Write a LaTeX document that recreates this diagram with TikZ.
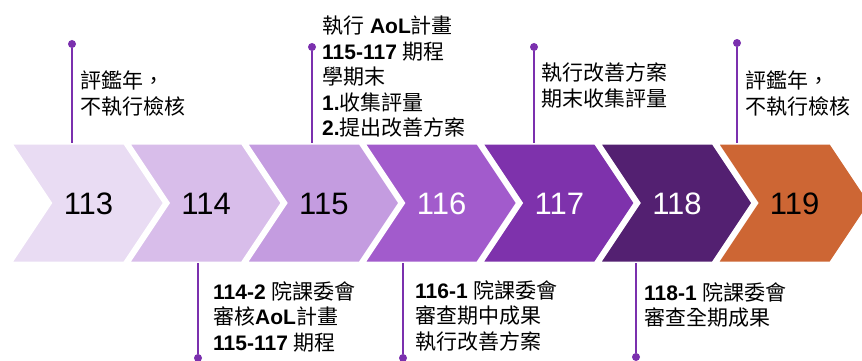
\documentclass[tikz,border=0pt]{standalone}
\usepackage{fontspec}
\setmainfont{Liberation Sans}
\newfontfamily\cjk{Noto Sans CJK TC}
\newcommand{\zh}[1]{{\cjk #1}}
\definecolor{c113}{HTML}{E9DCF3}
\definecolor{c114}{HTML}{D8BDEA}
\definecolor{c115}{HTML}{C49CE0}
\definecolor{c116}{HTML}{A25BCC}
\definecolor{c117}{HTML}{7E32AC}
\definecolor{c118}{HTML}{532071}
\definecolor{c119}{HTML}{CD6634}
\definecolor{pinc}{HTML}{7B30AE}
\tikzset{
  year/.style={font=\fontsize{31}{33}\selectfont},
  note/.style={anchor=north west, align=left, inner sep=0pt, font=\fontsize{21}{25.5}\selectfont},
  dot/.style={circle, fill=pinc, inner sep=0pt, minimum size=8pt},
  pin/.style={draw=pinc, line width=2pt}
}
\begin{document}
\begin{tikzpicture}[x=1pt,y=-1pt]
\useasboundingbox (0,0) rectangle (862,361);

% chevrons
\foreach \n/\c/\t [count=\i from 0] in {113/c113/black,114/c114/black,115/c115/black,116/c116/white,117/c117/white,118/c118/white,119/c119/black} {
  \path[fill=\c,draw=white,line width=3pt] ({10.5+117.7*\i},143) -- ++(114,0) -- ++(40,60) -- ++(-40,60) -- ++(-114,0) -- ++(40,-60) -- cycle;
  \node[year,text=\t] (\n) at ({10.5+117.7*\i+78},204) {\n};
}

\node[dot] (d1) at (72,44) {};
\node[dot] (d2) at (312,47) {};
\node[dot] (d3) at (534,47) {};
\node[dot] (d4) at (737,43) {};
\node[dot] (d5) at (198,358) {};
\node[dot] (d6) at (403,358) {};
\node[dot] (d7) at (636,357) {};

\coordinate (e1) at (72,143);
\coordinate (e2) at (312,143);
\coordinate (e3) at (534,143);
\coordinate (e4) at (737,143);
\coordinate (e5) at (198,263);
\coordinate (e6) at (403,263);
\coordinate (e7) at (636,263);

\path[pin] (d1) -- (e1);
\path[pin] (d2) -- (e2);
\path[pin] (d3) -- (e3);
\path[pin] (d4) -- (e4);
\path[pin] (d5) -- (e5);
\path[pin] (d6) -- (e6);
\path[pin] (d7) -- (e7);

\node[note] (t1) at (80,71) {\zh{評鑑年，}\\\zh{不執行檢核}};
\node[note] (t2) at (322,16) {\zh{執行} \textbf{AoL}\zh{計畫}\\\textbf{115-117} \zh{期程}\\\zh{學期末}\\\textbf{1.}\zh{收集評量}\\\textbf{2.}\zh{提出改善方案}};
\node[note] (t3) at (541,63) {\zh{執行改善方案}\\\zh{期末收集評量}};
\node[note] (t4) at (745,71) {\zh{評鑑年，}\\\zh{不執行檢核}};
\node[note] (t5) at (213,281) {\textbf{114-2} \zh{院課委會}\\\zh{審核}\textbf{AoL}\zh{計畫}\\\textbf{115-117} \zh{期程}};
\node[note] (t6) at (415,280) {\textbf{116-1} \zh{院課委會}\\\zh{審查期中成果}\\\zh{執行改善方案}};
\node[note] (t7) at (644,282) {\textbf{118-1} \zh{院課委會}\\\zh{審查全期成果}};
\end{tikzpicture}
\end{document}
